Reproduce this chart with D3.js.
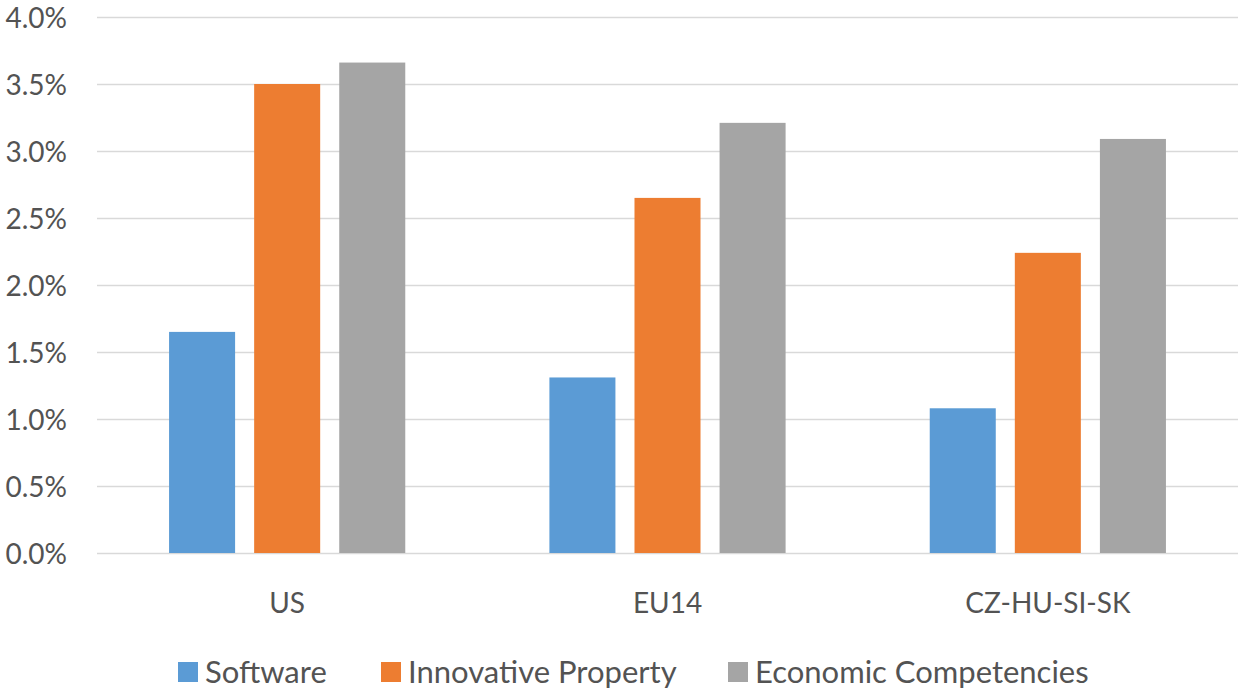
<!DOCTYPE html>
<html><head><meta charset="utf-8">
<script src="https://cdn.jsdelivr.net/npm/d3@7"></script>
<style>html,body{margin:0;padding:0;background:#fff;}svg{display:block;}</style>
</head><body><svg id="c" width="1240" height="690"></svg>
<script>
const categories = ["US", "EU14", "CZ-HU-SI-SK"];
const seriesNames = ["Software", "Innovative Property", "Economic Competencies"];
const software = [1.65, 1.31, 1.08];
const innovativeProperty = [3.50, 2.65, 2.24];
const economicCompetencies = [3.66, 3.21, 3.09];
const yTicks = [0, 0.5, 1.0, 1.5, 2.0, 2.5, 3.0, 3.5, 4.0];
const colors = ["#5B9BD5", "#ED7D31", "#A5A5A5"];

(function () {
const seriesValues = [software, innovativeProperty, economicCompetencies];
const FONT = "Lato, 'Open Sans', sans-serif";
const TXT = "#535353";

const svg = d3.select("#c");
const mLeft = 97, mRight = 1238, mTop = 17, mBottom = 553;

const y = d3.scaleLinear().domain([0, 4]).range([mBottom, mTop]);
const x0 = d3.scaleBand().domain(categories).range([mLeft, mRight]).paddingInner(0).paddingOuter(0);
const x1 = d3.scaleBand().domain(seriesNames).range([0, x0.bandwidth()]).paddingInner(0.224).paddingOuter(0.847);

const yAxis = d3.axisLeft(y).tickValues(yTicks).tickSize(-(mRight - mLeft)).tickFormat(d => d.toFixed(1) + "%").tickPadding(30);
const gy = svg.append("g").attr("transform", `translate(${mLeft},0)`).call(yAxis);
gy.select(".domain").remove();
gy.selectAll(".tick line").attr("stroke", "#d9d9d9").attr("stroke-width", 1.3);
gy.selectAll(".tick text").attr("fill", TXT).attr("font-family", FONT).attr("font-size", 28).attr("dy", "0.39em");

const groups = svg.append("g").selectAll("g").data(categories).join("g")
  .attr("transform", d => `translate(${x0(d)},0)`);
groups.selectAll("rect").data((d, i) => seriesNames.map((s, j) => ({s, j, v: seriesValues[j][i]})))
  .join("rect")
  .attr("x", d => x1(d.s))
  .attr("width", x1.bandwidth())
  .attr("y", d => y(d.v))
  .attr("height", d => y(0) - y(d.v))
  .attr("fill", d => colors[d.j]);

const xAxis = d3.axisBottom(x0).tickSize(0).tickPadding(0);
const gx = svg.append("g").attr("transform", `translate(0,${mBottom})`).call(xAxis);
gx.select(".domain").remove();
gx.selectAll(".tick text").attr("fill", TXT).attr("font-family", FONT).attr("font-size", 28).attr("dy", null).attr("y", 60);

const legendX = [178, 381, 728];
const lg = svg.append("g").selectAll("g").data(seriesNames).join("g")
  .attr("transform", (d, i) => `translate(${legendX[i]},662)`);
lg.append("rect").attr("width", 20).attr("height", 20).attr("fill", (d, i) => colors[i]);
lg.append("text").attr("x", 27).attr("y", 21).attr("fill", TXT).attr("font-family", FONT)
  .attr("font-size", 31).text(d => d);
})();
</script></body></html>
